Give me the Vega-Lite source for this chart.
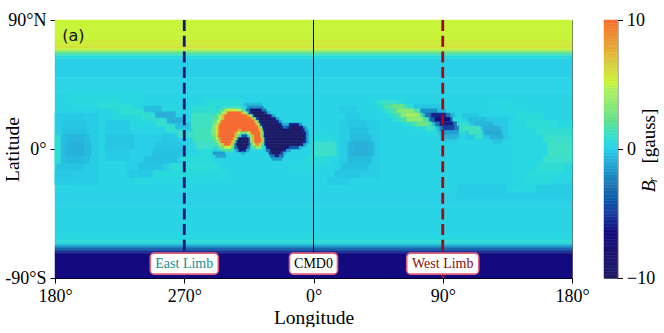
{"$schema":"https://vega.github.io/schema/vega-lite/v6.json","padding":{"left":2,"top":10,"right":0,"bottom":0},"bounds":"flush","spacing":32,
"config":{"view":{"stroke":"#666","strokeWidth":1},"axis":{"labelFont":"Liberation Serif","titleFont":"Liberation Serif","labelFontSize":18,"titleFontSize":19.5,"titleFontWeight":"normal","labelColor":"#000","titleColor":"#000","tickColor":"#000","domainColor":"#000","tickSize":5,"grid":false,"labelFlush":false}},
"hconcat":[{"width":517,"height":258,
"layer":[
{"data":{"values":[
{"a":-180,"b":180,"c":90,"d":76,"v":5},{"a":-180,"b":180,"c":76,"d":72,"v":5.3},{"a":-180,"b":180,"c":72,"d":70,"v":5.7},{"a":-180,"b":180,"c":70,"d":69,"v":5},{"a":-180,"b":180,"c":69,"d":68,"v":3.9},{"a":-180,"b":180,"c":68,"d":67,"v":2.8},{"a":-180,"b":180,"c":67,"d":66,"v":1.8},{"a":-180,"b":180,"c":66,"d":65,"v":1},{"a":-180,"b":180,"c":65,"d":63,"v":0.4},{"a":-180,"b":180,"c":63,"d":60,"v":-0.1},{"a":-180,"b":180,"c":60,"d":50,"v":-0.15},{"a":-180,"b":180,"c":50,"d":40,"v":0.05},{"a":-180,"b":180,"c":40,"d":-30,"v":0.1},{"a":-180,"b":180,"c":-30,"d":-40,"v":-0.05},{"a":-180,"b":180,"c":-40,"d":-60,"v":0.1},{"a":-180,"b":180,"c":-60,"d":-64,"v":0.3},{"a":-180,"b":180,"c":-64,"d":-66,"v":0.6},{"a":-180,"b":180,"c":-66,"d":-67,"v":-0.3},{"a":-180,"b":180,"c":-67,"d":-68,"v":-1.2},{"a":-180,"b":180,"c":-68,"d":-69,"v":-2.2},{"a":-180,"b":180,"c":-69,"d":-70,"v":-3.2},{"a":-180,"b":180,"c":-70,"d":-71,"v":-4.2},{"a":-180,"b":180,"c":-71,"d":-72,"v":-5.2},{"a":-180,"b":180,"c":-72,"d":-73,"v":-6},{"a":-180,"b":180,"c":-73,"d":-90,"v":-6.5},
{"a":-180,"b":-150,"c":25,"d":-25,"v":-0.2},{"a":-170,"b":-120,"c":40,"d":28,"v":0.25},{"a":-140,"b":-95,"c":28,"d":16,"v":0.35},{"a":-130,"b":-88,"c":10,"d":-20,"v":-0.15},{"a":18,"b":46,"c":20,"d":-20,"v":-0.2},{"a":140,"b":180,"c":20,"d":-20,"v":0.3},{"a":42,"b":62,"c":34,"d":31,"v":0.5},{"a":44,"b":70,"c":31,"d":28,"v":0.6},{"a":48,"b":76,"c":28,"d":25,"v":0.7},{"a":52,"b":78,"c":25,"d":22,"v":0.7},{"a":55,"b":82,"c":22,"d":19,"v":0.7},{"a":62,"b":85,"c":19,"d":16,"v":0.6},{"a":70,"b":87,"c":16,"d":13,"v":0.5},{"a":78,"b":88,"c":13,"d":10,"v":0.3},{"a":70,"b":88,"c":31,"d":28,"v":-0.4},{"a":74,"b":92,"c":28,"d":25,"v":-0.8},{"a":76,"b":98,"c":25,"d":22,"v":-1},{"a":79,"b":100,"c":22,"d":19,"v":-1},{"a":83,"b":103,"c":19,"d":16,"v":-0.9},{"a":86,"b":104,"c":16,"d":13,"v":-0.8},{"a":87,"b":104,"c":13,"d":10,"v":-0.6},{"a":88,"b":102,"c":10,"d":7,"v":-0.4},{"a":90,"b":100,"c":7,"d":4,"v":-0.2},{"a":100,"b":120,"c":16,"d":10,"v":0.6},{"a":106,"b":135,"c":22,"d":7,"v":-0.3},
{"a":100,"b":180,"c":-25,"d":-35,"v":-0.2},{"a":-175,"b":-160,"c":25,"d":20,"v":-0.25},{"a":-175,"b":-158,"c":20,"d":15,"v":-0.35},{"a":-175,"b":-158,"c":15,"d":10,"v":-0.5},{"a":-176,"b":-156,"c":10,"d":5,"v":-0.6},{"a":-172,"b":-160,"c":10,"d":5,"v":-0.8},{"a":-176,"b":-155,"c":5,"d":-5,"v":-0.7},{"a":-172,"b":-160,"c":5,"d":-5,"v":-0.95},{"a":-176,"b":-156,"c":-5,"d":-10,"v":-0.6},{"a":-172,"b":-162,"c":-5,"d":-10,"v":-0.75},{"a":-178,"b":-160,"c":-10,"d":-15,"v":-0.45},{"a":-180,"b":-165,"c":-15,"d":-20,"v":-0.3},{"a":-180,"b":-170,"c":-20,"d":-25,"v":-0.2},{"a":-180,"b":-176,"c":10,"d":-10,"v":0.6},
{"a":-165,"b":-135,"c":36,"d":32,"v":0.4},{"a":-150,"b":-125,"c":32,"d":28,"v":0.6},{"a":-135,"b":-115,"c":28,"d":24,"v":0.7},{"a":-120,"b":-105,"c":24,"d":20,"v":0.7},{"a":-110,"b":-100,"c":20,"d":16,"v":0.8},{"a":-103,"b":-90,"c":16,"d":12,"v":0.8},{"a":-95,"b":-82,"c":12,"d":8,"v":0.9},
{"a":-118,"b":-106,"c":30,"d":26,"v":-0.6},{"a":-110,"b":-96,"c":26,"d":22,"v":-1},{"a":-102,"b":-90,"c":22,"d":18,"v":-1},{"a":-96,"b":-86,"c":18,"d":14,"v":-0.6},
{"a":-145,"b":-128,"c":20,"d":10,"v":-0.25},{"a":-145,"b":-125,"c":10,"d":0,"v":-0.4},{"a":-145,"b":-128,"c":0,"d":-8,"v":-0.25},
{"a":-105,"b":-95,"c":10,"d":5,"v":-0.3},{"a":-110,"b":-92,"c":5,"d":0,"v":-0.4},{"a":-112,"b":-90,"c":0,"d":-5,"v":-0.5},{"a":-118,"b":-95,"c":-5,"d":-10,"v":-0.55},{"a":-122,"b":-105,"c":-10,"d":-15,"v":-0.45},{"a":-128,"b":-112,"c":-15,"d":-20,"v":-0.3},
{"a":-92,"b":-70,"c":-5,"d":-10,"v":0.5},{"a":-100,"b":-65,"c":-10,"d":-15,"v":0.6},{"a":-112,"b":-60,"c":-15,"d":-20,"v":0.4},{"a":-125,"b":-70,"c":-20,"d":-25,"v":0.25},
{"a":-75,"b":-50,"c":35,"d":30,"v":0.5},{"a":-85,"b":-68,"c":30,"d":25,"v":0.7},{"a":-85,"b":-70,"c":25,"d":15,"v":1.1},{"a":-84,"b":-71,"c":15,"d":5,"v":1.3},{"a":-82,"b":-70,"c":5,"d":0,"v":1},{"a":-80,"b":-70,"c":0,"d":-5,"v":0.5},
{"a":0,"b":14,"c":10,"d":5,"v":0.4},{"a":0,"b":16,"c":5,"d":-5,"v":0.9},{"a":-5,"b":12,"c":-5,"d":-10,"v":0.5},{"a":-15,"b":5,"c":-10,"d":-15,"v":0.3},
{"a":18,"b":30,"c":30,"d":25,"v":-0.2},{"a":22,"b":32,"c":25,"d":20,"v":-0.3},{"a":24,"b":36,"c":20,"d":15,"v":-0.4},{"a":25,"b":38,"c":15,"d":10,"v":-0.55},{"a":26,"b":40,"c":10,"d":5,"v":-0.7},{"a":24,"b":42,"c":5,"d":-5,"v":-0.8},{"a":28,"b":38,"c":5,"d":-5,"v":-1},{"a":24,"b":40,"c":-5,"d":-10,"v":-0.7},{"a":20,"b":38,"c":-10,"d":-15,"v":-0.55},{"a":15,"b":32,"c":-15,"d":-20,"v":-0.4},{"a":10,"b":25,"c":-20,"d":-25,"v":-0.2},
{"a":120,"b":140,"c":35,"d":30,"v":0.25},{"a":130,"b":150,"c":30,"d":25,"v":0.35},{"a":140,"b":160,"c":25,"d":20,"v":0.5},{"a":148,"b":170,"c":20,"d":15,"v":0.6},{"a":155,"b":180,"c":15,"d":10,"v":0.7},{"a":160,"b":180,"c":10,"d":5,"v":0.9},{"a":163,"b":180,"c":5,"d":-5,"v":1.05},{"a":160,"b":180,"c":-5,"d":-10,"v":0.9},{"a":155,"b":175,"c":-10,"d":-15,"v":0.7},{"a":150,"b":170,"c":-15,"d":-20,"v":0.5},{"a":145,"b":165,"c":-20,"d":-25,"v":0.4},{"a":135,"b":155,"c":-25,"d":-30,"v":0.3},
{"a":46,"b":58,"c":34,"d":31,"v":0.9},{"a":49,"b":65,"c":31,"d":28,"v":1.6},{"a":55,"b":62,"c":31,"d":28,"v":2.3},{"a":53,"b":74,"c":28,"d":25,"v":1.5},{"a":58,"b":70,"c":28,"d":25,"v":3.2},{"a":75,"b":86,"c":28,"d":25,"v":-2},{"a":57,"b":76,"c":25,"d":22,"v":1.5},{"a":61,"b":74,"c":25,"d":22,"v":3.5},{"a":65,"b":72,"c":25,"d":22,"v":4.2},{"a":78,"b":95,"c":25,"d":22,"v":-3},{"a":82,"b":92,"c":25,"d":22,"v":-6},{"a":104,"b":115,"c":25,"d":22,"v":-0.4},{"a":60,"b":80,"c":22,"d":19,"v":1.5},{"a":65,"b":76,"c":22,"d":19,"v":3.5},{"a":81,"b":97,"c":22,"d":19,"v":-3.5},{"a":84.5,"b":95,"c":22,"d":19,"v":-6.5},{"a":97,"b":103,"c":22,"d":19,"v":0.5},{"a":108,"b":120,"c":22,"d":19,"v":-0.6},{"a":67,"b":82,"c":19,"d":16,"v":1.3},{"a":72,"b":80,"c":19,"d":16,"v":2.5},{"a":85,"b":100,"c":19,"d":16,"v":-3},{"a":88,"b":97,"c":19,"d":16,"v":-6},{"a":100,"b":108,"c":19,"d":16,"v":0.7},{"a":112,"b":125,"c":19,"d":16,"v":-0.8},{"a":78,"b":84,"c":16,"d":13,"v":1},{"a":88,"b":101,"c":16,"d":13,"v":-2.5},{"a":90,"b":98,"c":16,"d":13,"v":-5},{"a":103,"b":116,"c":16,"d":13,"v":1.2},{"a":118,"b":130,"c":16,"d":13,"v":-1},{"a":89,"b":101,"c":13,"d":10,"v":-1.5},{"a":108,"b":117,"c":13,"d":10,"v":1.2},{"a":119,"b":131,"c":13,"d":10,"v":-1.2},{"a":90,"b":100,"c":10,"d":7,"v":-0.9},{"a":112,"b":118,"c":10,"d":7,"v":0.8},{"a":123,"b":132,"c":10,"d":7,"v":-1},{"a":125,"b":131,"c":7,"d":4,"v":-0.5},
{"a":-48,"b":-36,"c":32,"d":30,"v":-0.8},{"a":-64,"b":-50,"c":30,"d":28,"v":1},{"a":-46,"b":-35,"c":30,"d":28,"v":-2},
{"a":-66,"b":-62,"c":28,"d":26,"v":1.5},{"a":-62,"b":-60,"c":28,"d":26,"v":4},{"a":-60,"b":-54,"c":28,"d":26,"v":5.5},{"a":-54,"b":-50,"c":28,"d":26,"v":4.5},{"a":-50,"b":-47,"c":28,"d":26,"v":1},{"a":-47,"b":-44,"c":28,"d":26,"v":-3},{"a":-44,"b":-36,"c":28,"d":26,"v":-8},{"a":-36,"b":-33,"c":28,"d":26,"v":-3},
{"a":-68,"b":-64,"c":26,"d":24,"v":1.5},{"a":-64,"b":-62,"c":26,"d":24,"v":4},{"a":-62,"b":-60,"c":26,"d":24,"v":6},{"a":-60,"b":-50,"c":26,"d":24,"v":10},{"a":-50,"b":-48,"c":26,"d":24,"v":7},{"a":-48,"b":-46,"c":26,"d":24,"v":4},{"a":-46,"b":-45,"c":26,"d":24,"v":0},{"a":-45,"b":-43,"c":26,"d":24,"v":-5},{"a":-43,"b":-34,"c":26,"d":24,"v":-10},{"a":-34,"b":-32,"c":26,"d":24,"v":-5},{"a":-32,"b":-30,"c":26,"d":24,"v":-1},
{"a":-70,"b":-67,"c":24,"d":22,"v":1.5},{"a":-67,"b":-65,"c":24,"d":22,"v":3},{"a":-65,"b":-64,"c":24,"d":22,"v":5},{"a":-64,"b":-62,"c":24,"d":22,"v":7},{"a":-62,"b":-46,"c":24,"d":22,"v":10},{"a":-46,"b":-44,"c":24,"d":22,"v":7.5},{"a":-44,"b":-43,"c":24,"d":22,"v":5},{"a":-43,"b":-42,"c":24,"d":22,"v":1},{"a":-42,"b":-41,"c":24,"d":22,"v":-5},{"a":-41,"b":-31,"c":24,"d":22,"v":-10},{"a":-31,"b":-29,"c":24,"d":22,"v":-6},{"a":-29,"b":-27,"c":24,"d":22,"v":-1.5},
{"a":-70,"b":-66,"c":22,"d":20,"v":2},{"a":-66,"b":-64,"c":22,"d":20,"v":4.5},{"a":-64,"b":-62,"c":22,"d":20,"v":7},{"a":-62,"b":-43,"c":22,"d":20,"v":10},{"a":-43,"b":-41,"c":22,"d":20,"v":7},{"a":-41,"b":-40,"c":22,"d":20,"v":3},{"a":-40,"b":-38,"c":22,"d":20,"v":-5},{"a":-38,"b":-28,"c":22,"d":20,"v":-10},{"a":-28,"b":-26,"c":22,"d":20,"v":-6},{"a":-26,"b":-24,"c":22,"d":20,"v":-1.5},
{"a":-70,"b":-67,"c":20,"d":18,"v":2.5},{"a":-67,"b":-65,"c":20,"d":18,"v":5},{"a":-65,"b":-64,"c":20,"d":18,"v":7.5},{"a":-64,"b":-41,"c":20,"d":18,"v":10},{"a":-41,"b":-39.5,"c":20,"d":18,"v":7},{"a":-39.5,"b":-38,"c":20,"d":18,"v":3},{"a":-38,"b":-36,"c":20,"d":18,"v":-6},{"a":-36,"b":-26,"c":20,"d":18,"v":-10},{"a":-26,"b":-24,"c":20,"d":18,"v":-6},{"a":-24,"b":-22,"c":20,"d":18,"v":-1.5},
{"a":-70,"b":-67,"c":18,"d":16,"v":3},{"a":-67,"b":-66,"c":18,"d":16,"v":5.5},{"a":-66,"b":-65,"c":18,"d":16,"v":8},{"a":-65,"b":-40,"c":18,"d":16,"v":10},{"a":-40,"b":-38,"c":18,"d":16,"v":7},{"a":-38,"b":-37,"c":18,"d":16,"v":3},{"a":-37,"b":-35,"c":18,"d":16,"v":-6},{"a":-35,"b":-24,"c":18,"d":16,"v":-10},{"a":-24,"b":-22,"c":18,"d":16,"v":-6},{"a":-22,"b":-20,"c":18,"d":16,"v":-1.5},{"a":-20,"b":-17,"c":18,"d":16,"v":-1},{"a":-17,"b":-10,"c":18,"d":16,"v":-6},{"a":-10,"b":-8,"c":18,"d":16,"v":-2},
{"a":-71,"b":-68,"c":16,"d":14,"v":3},{"a":-68,"b":-66.5,"c":16,"d":14,"v":5.5},{"a":-66.5,"b":-65.5,"c":16,"d":14,"v":8},{"a":-65.5,"b":-38.5,"c":16,"d":14,"v":10},{"a":-38.5,"b":-37,"c":16,"d":14,"v":7},{"a":-37,"b":-35.5,"c":16,"d":14,"v":3},{"a":-35.5,"b":-34,"c":16,"d":14,"v":-6},{"a":-34,"b":-23,"c":16,"d":14,"v":-10},{"a":-23,"b":-21,"c":16,"d":14,"v":-6},{"a":-21,"b":-19,"c":16,"d":14,"v":-3},{"a":-19,"b":-17,"c":16,"d":14,"v":-4},{"a":-17,"b":-9,"c":16,"d":14,"v":-10},{"a":-9,"b":-7,"c":16,"d":14,"v":-6},{"a":-7,"b":-5,"c":16,"d":14,"v":-1.5},
{"a":-71,"b":-68,"c":14,"d":12,"v":3},{"a":-68,"b":-66.5,"c":14,"d":12,"v":5.5},{"a":-66.5,"b":-65.5,"c":14,"d":12,"v":8},{"a":-65.5,"b":-53,"c":14,"d":12,"v":10},{"a":-53,"b":-50,"c":14,"d":12,"v":8},{"a":-50,"b":-38,"c":14,"d":12,"v":10},{"a":-38,"b":-36,"c":14,"d":12,"v":7},{"a":-36,"b":-35,"c":14,"d":12,"v":3},{"a":-35,"b":-33.5,"c":14,"d":12,"v":-6},{"a":-33.5,"b":-21,"c":14,"d":12,"v":-10},{"a":-21,"b":-18,"c":14,"d":12,"v":-7},{"a":-18,"b":-7.5,"c":14,"d":12,"v":-10},{"a":-7.5,"b":-6,"c":14,"d":12,"v":-6},{"a":-6,"b":-4,"c":14,"d":12,"v":-1.5},
{"a":-71,"b":-68,"c":12,"d":10,"v":3},{"a":-68,"b":-66.5,"c":12,"d":10,"v":5.5},{"a":-66.5,"b":-65.5,"c":12,"d":10,"v":8},{"a":-65.5,"b":-55,"c":12,"d":10,"v":10},{"a":-55,"b":-53,"c":12,"d":10,"v":8},{"a":-53,"b":-51,"c":12,"d":10,"v":5},{"a":-51,"b":-46,"c":12,"d":10,"v":2.5},{"a":-46,"b":-44,"c":12,"d":10,"v":5},{"a":-44,"b":-43,"c":12,"d":10,"v":8},{"a":-43,"b":-37,"c":12,"d":10,"v":10},{"a":-37,"b":-36,"c":12,"d":10,"v":7},{"a":-36,"b":-34.5,"c":12,"d":10,"v":3},{"a":-34.5,"b":-33,"c":12,"d":10,"v":-6},{"a":-33,"b":-7,"c":12,"d":10,"v":-10},{"a":-7,"b":-5,"c":12,"d":10,"v":-6},{"a":-5,"b":-3.5,"c":12,"d":10,"v":-1.5},
{"a":-71,"b":-68,"c":10,"d":8,"v":2.5},{"a":-68,"b":-67,"c":10,"d":8,"v":5},{"a":-67,"b":-66,"c":10,"d":8,"v":8},{"a":-66,"b":-55,"c":10,"d":8,"v":10},{"a":-55,"b":-53,"c":10,"d":8,"v":7.5},{"a":-53,"b":-52,"c":10,"d":8,"v":4},{"a":-52,"b":-50,"c":10,"d":8,"v":0},{"a":-50,"b":-46,"c":10,"d":8,"v":-4},{"a":-46,"b":-44.5,"c":10,"d":8,"v":0},{"a":-44.5,"b":-43,"c":10,"d":8,"v":4},{"a":-43,"b":-41,"c":10,"d":8,"v":7.5},{"a":-41,"b":-37,"c":10,"d":8,"v":10},{"a":-37,"b":-35.5,"c":10,"d":8,"v":7},{"a":-35.5,"b":-34.5,"c":10,"d":8,"v":2},{"a":-34.5,"b":-33,"c":10,"d":8,"v":-6},{"a":-33,"b":-6.5,"c":10,"d":8,"v":-10},{"a":-6.5,"b":-5,"c":10,"d":8,"v":-6},{"a":-5,"b":-3.5,"c":10,"d":8,"v":-1.5},
{"a":-71,"b":-68,"c":8,"d":6,"v":2},{"a":-68,"b":-66,"c":8,"d":6,"v":4.5},{"a":-66,"b":-64.5,"c":8,"d":6,"v":8},{"a":-64.5,"b":-56,"c":8,"d":6,"v":10},{"a":-56,"b":-54,"c":8,"d":6,"v":7},{"a":-54,"b":-53,"c":8,"d":6,"v":3},{"a":-53,"b":-52,"c":8,"d":6,"v":-3},{"a":-52,"b":-45,"c":8,"d":6,"v":-10},{"a":-45,"b":-44,"c":8,"d":6,"v":-3},{"a":-44,"b":-42.5,"c":8,"d":6,"v":4},{"a":-42.5,"b":-41,"c":8,"d":6,"v":7.5},{"a":-41,"b":-36.5,"c":8,"d":6,"v":10},{"a":-36.5,"b":-35,"c":8,"d":6,"v":7},{"a":-35,"b":-34,"c":8,"d":6,"v":2},{"a":-34,"b":-32.5,"c":8,"d":6,"v":-6},{"a":-32.5,"b":-6.5,"c":8,"d":6,"v":-10},{"a":-6.5,"b":-5,"c":8,"d":6,"v":-6},{"a":-5,"b":-3.5,"c":8,"d":6,"v":-1.5},
{"a":-70,"b":-67,"c":6,"d":4,"v":2},{"a":-67,"b":-65.5,"c":6,"d":4,"v":4.5},{"a":-65.5,"b":-64,"c":6,"d":4,"v":8},{"a":-64,"b":-57,"c":6,"d":4,"v":10},{"a":-57,"b":-55,"c":6,"d":4,"v":7},{"a":-55,"b":-54,"c":6,"d":4,"v":3},{"a":-54,"b":-53,"c":6,"d":4,"v":-3},{"a":-53,"b":-45,"c":6,"d":4,"v":-10},{"a":-45,"b":-44,"c":6,"d":4,"v":-3},{"a":-44,"b":-42.5,"c":6,"d":4,"v":3},{"a":-42.5,"b":-41,"c":6,"d":4,"v":7},{"a":-41,"b":-36.5,"c":6,"d":4,"v":10},{"a":-36.5,"b":-35,"c":6,"d":4,"v":7},{"a":-35,"b":-34,"c":6,"d":4,"v":2},{"a":-34,"b":-32,"c":6,"d":4,"v":-6},{"a":-32,"b":-7,"c":6,"d":4,"v":-10},{"a":-7,"b":-5,"c":6,"d":4,"v":-6},{"a":-5,"b":-3.5,"c":6,"d":4,"v":-1.5},
{"a":-70,"b":-66,"c":4,"d":2,"v":1.5},{"a":-66,"b":-64,"c":4,"d":2,"v":4},{"a":-64,"b":-62,"c":4,"d":2,"v":7},{"a":-62,"b":-58,"c":4,"d":2,"v":10},{"a":-58,"b":-56,"c":4,"d":2,"v":7},{"a":-56,"b":-55,"c":4,"d":2,"v":3},{"a":-55,"b":-53.5,"c":4,"d":2,"v":-3},{"a":-53.5,"b":-45,"c":4,"d":2,"v":-10},{"a":-45,"b":-43.5,"c":4,"d":2,"v":-3},{"a":-43.5,"b":-42,"c":4,"d":2,"v":2},{"a":-42,"b":-40.5,"c":4,"d":2,"v":5},{"a":-40.5,"b":-37.5,"c":4,"d":2,"v":8.5},{"a":-37.5,"b":-36,"c":4,"d":2,"v":6},{"a":-36,"b":-34,"c":4,"d":2,"v":1.5},{"a":-34,"b":-32,"c":4,"d":2,"v":-6},{"a":-32,"b":-9,"c":4,"d":2,"v":-10},{"a":-9,"b":-7,"c":4,"d":2,"v":-6},{"a":-7,"b":-5,"c":4,"d":2,"v":-1.5},
{"a":-66,"b":-62,"c":2,"d":0,"v":2.5},{"a":-62,"b":-57,"c":2,"d":0,"v":5},{"a":-57,"b":-55,"c":2,"d":0,"v":2},{"a":-55,"b":-53,"c":2,"d":0,"v":-3},{"a":-53,"b":-46,"c":2,"d":0,"v":-10},{"a":-46,"b":-44,"c":2,"d":0,"v":-3},{"a":-44,"b":-40,"c":2,"d":0,"v":1.5},{"a":-40,"b":-36,"c":2,"d":0,"v":3.5},{"a":-36,"b":-33,"c":2,"d":0,"v":0.5},{"a":-33,"b":-31,"c":2,"d":0,"v":-6},{"a":-31,"b":-19,"c":2,"d":0,"v":-10},{"a":-19,"b":-17,"c":2,"d":0,"v":-7},{"a":-17,"b":-10,"c":2,"d":0,"v":-4},{"a":-10,"b":-8,"c":2,"d":0,"v":-1},
{"a":-64,"b":-56,"c":0,"d":-2,"v":1.5},{"a":-54,"b":-52,"c":0,"d":-2,"v":-1.5},{"a":-52,"b":-47,"c":0,"d":-2,"v":-6},{"a":-47,"b":-45,"c":0,"d":-2,"v":-1.5},{"a":-33,"b":-30,"c":0,"d":-2,"v":-3},{"a":-30,"b":-21,"c":0,"d":-2,"v":-10},{"a":-21,"b":-19,"c":0,"d":-2,"v":-6},{"a":-19,"b":-16,"c":0,"d":-2,"v":-1.5},
{"a":-70,"b":-62,"c":-2,"d":-4,"v":-1.6},{"a":-50,"b":-48,"c":-2,"d":-4,"v":-1},{"a":-31,"b":-29,"c":-2,"d":-4,"v":-5},{"a":-29,"b":-23,"c":-2,"d":-4,"v":-10},{"a":-23,"b":-21,"c":-2,"d":-4,"v":-5},{"a":-21,"b":-19,"c":-2,"d":-4,"v":-1},
{"a":-68,"b":-61,"c":-4,"d":-6,"v":-1.3},{"a":-30,"b":-27,"c":-4,"d":-6,"v":-3},{"a":-27,"b":-24,"c":-4,"d":-6,"v":-6},{"a":-24,"b":-21,"c":-4,"d":-6,"v":-3},
{"a":-29,"b":-22,"c":-6,"d":-8,"v":-1.5}
]},
"mark":{"type":"rect","strokeWidth":0.5},
"encoding":{"x":{"field":"a","type":"quantitative","scale":{"domain":[-180,180],"nice":false},"title":"Longitude","axis":{"values":[-180,-90,0,90,180],"labelExpr":"datum.value==0?'0°':datum.value==90?'90°':datum.value==-90?'270°':'180°'","domain":true,"titlePadding":3,"labelPadding":4}},"x2":{"field":"b"},
"y":{"field":"c","type":"quantitative","scale":{"domain":[-90,90],"nice":false},"title":"Latitude","axis":{"values":[-90,0,90],"labelExpr":"datum.value==90?'90°N':datum.value==0?'0°':'-90°S'","domain":true,"titlePadding":-18,"labelPadding":4}},"y2":{"field":"d"},
"color":{"field":"v","type":"quantitative","legend":null,"scale":{"domain":[-10,-8,-6.5,-5,-3,-1,0,1,2,3,4.5,5,6.5,8,10],"range":["#1f1a66","#1c1470","#130a80","#1d3f9e","#2072b0","#2ab0d8","#2cd4e8","#40e0c8","#60e090","#82e878","#b0f060","#c8f53a","#d8cf40","#e8a038","#f96a30"]}},
"stroke":{"field":"v","type":"quantitative","legend":null,"scale":{"domain":[-10,-8,-6.5,-5,-3,-1,0,1,2,3,4.5,5,6.5,8,10],"range":["#1f1a66","#1c1470","#130a80","#1d3f9e","#2072b0","#2ab0d8","#2cd4e8","#40e0c8","#60e090","#82e878","#b0f060","#c8f53a","#d8cf40","#e8a038","#f96a30"]}}}},
{"data":{"values":[{"lon":-90}]},"mark":{"type":"rule","color":"#14147a","strokeWidth":2.8,"strokeDash":[11,4.7]},"encoding":{"x":{"field":"lon","type":"quantitative"}}},
{"data":{"values":[{"lon":0}]},"mark":{"type":"rule","color":"#000","strokeWidth":1},"encoding":{"x":{"field":"lon","type":"quantitative"}}},
{"data":{"values":[{"lon":90}]},"mark":{"type":"rule","color":"#a00a14","strokeWidth":2.8,"strokeDash":[11,4.7]},"encoding":{"x":{"field":"lon","type":"quantitative"}}},
{"data":{"values":[{"lon":-90,"lat":-80}]},"mark":{"type":"rect","width":68,"height":21,"fill":"#fff","stroke":"#e0607a","strokeWidth":1.6,"cornerRadius":4},"encoding":{"x":{"field":"lon","type":"quantitative"},"y":{"field":"lat","type":"quantitative"}}},
{"data":{"values":[{"lon":0,"lat":-80}]},"mark":{"type":"rect","width":48,"height":21,"fill":"#fff","stroke":"#e0607a","strokeWidth":1.6,"cornerRadius":4},"encoding":{"x":{"field":"lon","type":"quantitative"},"y":{"field":"lat","type":"quantitative"}}},
{"data":{"values":[{"lon":90,"lat":-80}]},"mark":{"type":"rect","width":72,"height":21,"fill":"#fff","stroke":"#e0607a","strokeWidth":1.6,"cornerRadius":4},"encoding":{"x":{"field":"lon","type":"quantitative"},"y":{"field":"lat","type":"quantitative"}}},
{"data":{"values":[{"lon":-90,"lat":-80,"t":"East Limb"}]},"mark":{"type":"text","font":"Liberation Serif","fontSize":14,"color":"#1a8f8f"},"encoding":{"x":{"field":"lon","type":"quantitative"},"y":{"field":"lat","type":"quantitative"},"text":{"field":"t"}}},
{"data":{"values":[{"lon":0,"lat":-80,"t":"CMD0"}]},"mark":{"type":"text","font":"Liberation Serif","fontSize":14,"color":"#000"},"encoding":{"x":{"field":"lon","type":"quantitative"},"y":{"field":"lat","type":"quantitative"},"text":{"field":"t"}}},
{"data":{"values":[{"lon":90,"lat":-80,"t":"West Limb"}]},"mark":{"type":"text","font":"Liberation Serif","fontSize":14,"color":"#8b0a0a"},"encoding":{"x":{"field":"lon","type":"quantitative"},"y":{"field":"lat","type":"quantitative"},"text":{"field":"t"}}},
{"data":{"values":[{"lon":-175,"lat":79,"t":"(a)"}]},"mark":{"type":"text","font":"DejaVu Sans","fontSize":16,"color":"#111","align":"left"},"encoding":{"x":{"field":"lon","type":"quantitative"},"y":{"field":"lat","type":"quantitative"},"text":{"field":"t"}}}
]},
{"width":13.5,"height":258,
"layer":[
{"data":{"values":[{"v":-10,"u":-9.75},{"v":-9.75,"u":-9.5},{"v":-9.5,"u":-9.25},{"v":-9.25,"u":-9},{"v":-9,"u":-8.75},{"v":-8.75,"u":-8.5},{"v":-8.5,"u":-8.25},{"v":-8.25,"u":-8},{"v":-8,"u":-7.75},{"v":-7.75,"u":-7.5},{"v":-7.5,"u":-7.25},{"v":-7.25,"u":-7},{"v":-7,"u":-6.75},{"v":-6.75,"u":-6.5},{"v":-6.5,"u":-6.25},{"v":-6.25,"u":-6},{"v":-6,"u":-5.75},{"v":-5.75,"u":-5.5},{"v":-5.5,"u":-5.25},{"v":-5.25,"u":-5},{"v":-5,"u":-4.75},{"v":-4.75,"u":-4.5},{"v":-4.5,"u":-4.25},{"v":-4.25,"u":-4},{"v":-4,"u":-3.75},{"v":-3.75,"u":-3.5},{"v":-3.5,"u":-3.25},{"v":-3.25,"u":-3},{"v":-3,"u":-2.75},{"v":-2.75,"u":-2.5},{"v":-2.5,"u":-2.25},{"v":-2.25,"u":-2},{"v":-2,"u":-1.75},{"v":-1.75,"u":-1.5},{"v":-1.5,"u":-1.25},{"v":-1.25,"u":-1},{"v":-1,"u":-0.75},{"v":-0.75,"u":-0.5},{"v":-0.5,"u":-0.25},{"v":-0.25,"u":0},{"v":0,"u":0.25},{"v":0.25,"u":0.5},{"v":0.5,"u":0.75},{"v":0.75,"u":1},{"v":1,"u":1.25},{"v":1.25,"u":1.5},{"v":1.5,"u":1.75},{"v":1.75,"u":2},{"v":2,"u":2.25},{"v":2.25,"u":2.5},{"v":2.5,"u":2.75},{"v":2.75,"u":3},{"v":3,"u":3.25},{"v":3.25,"u":3.5},{"v":3.5,"u":3.75},{"v":3.75,"u":4},{"v":4,"u":4.25},{"v":4.25,"u":4.5},{"v":4.5,"u":4.75},{"v":4.75,"u":5},{"v":5,"u":5.25},{"v":5.25,"u":5.5},{"v":5.5,"u":5.75},{"v":5.75,"u":6},{"v":6,"u":6.25},{"v":6.25,"u":6.5},{"v":6.5,"u":6.75},{"v":6.75,"u":7},{"v":7,"u":7.25},{"v":7.25,"u":7.5},{"v":7.5,"u":7.75},{"v":7.75,"u":8},{"v":8,"u":8.25},{"v":8.25,"u":8.5},{"v":8.5,"u":8.75},{"v":8.75,"u":9},{"v":9,"u":9.25},{"v":9.25,"u":9.5},{"v":9.5,"u":9.75},{"v":9.75,"u":10}]},"mark":{"type":"rect","strokeWidth":0.5},"encoding":{"y":{"field":"v","type":"quantitative","scale":{"domain":[-10,10],"nice":false},"axis":{"orient":"right","values":[-10,0,10],"title":null,"domain":false,"labelPadding":4}},"y2":{"field":"u"},
"color":{"field":"v","type":"quantitative","legend":null,"scale":{"domain":[-10,-8,-6.5,-5,-3,-1,0,1,2,3,4.5,5,6.5,8,10],"range":["#1f1a66","#1c1470","#130a80","#1d3f9e","#2072b0","#2ab0d8","#2cd4e8","#40e0c8","#60e090","#82e878","#b0f060","#c8f53a","#d8cf40","#e8a038","#f96a30"]}},
"stroke":{"field":"v","type":"quantitative","legend":null,"scale":{"domain":[-10,-8,-6.5,-5,-3,-1,0,1,2,3,4.5,5,6.5,8,10],"range":["#1f1a66","#1c1470","#130a80","#1d3f9e","#2072b0","#2ab0d8","#2cd4e8","#40e0c8","#60e090","#82e878","#b0f060","#c8f53a","#d8cf40","#e8a038","#f96a30"]}}}},
{"data":{"values":[{"x":3.3,"y":1,"t":"[gauss]"}]},"mark":{"type":"text","font":"Liberation Serif","fontSize":19,"color":"#000","angle":270,"clip":false},"encoding":{"x":{"field":"x","type":"quantitative","scale":{"domain":[0,1]},"axis":null},"y":{"field":"y","type":"quantitative"},"text":{"field":"t"}}},
{"data":{"values":[{"x":3.3,"y":-2.9,"t":"B"}]},"mark":{"type":"text","font":"Liberation Serif","fontStyle":"italic","fontSize":19,"color":"#000","angle":270,"clip":false},"encoding":{"x":{"field":"x","type":"quantitative"},"y":{"field":"y","type":"quantitative"},"text":{"field":"t"}}},
{"data":{"values":[{"x":3.6,"y":-2.4,"t":"r"}]},"mark":{"type":"text","font":"Liberation Serif","fontStyle":"italic","fontSize":12,"color":"#000","angle":270,"clip":false},"encoding":{"x":{"field":"x","type":"quantitative"},"y":{"field":"y","type":"quantitative"},"text":{"field":"t"}}}
]}],
"resolve":{"scale":{"color":"independent","stroke":"independent"}}}
